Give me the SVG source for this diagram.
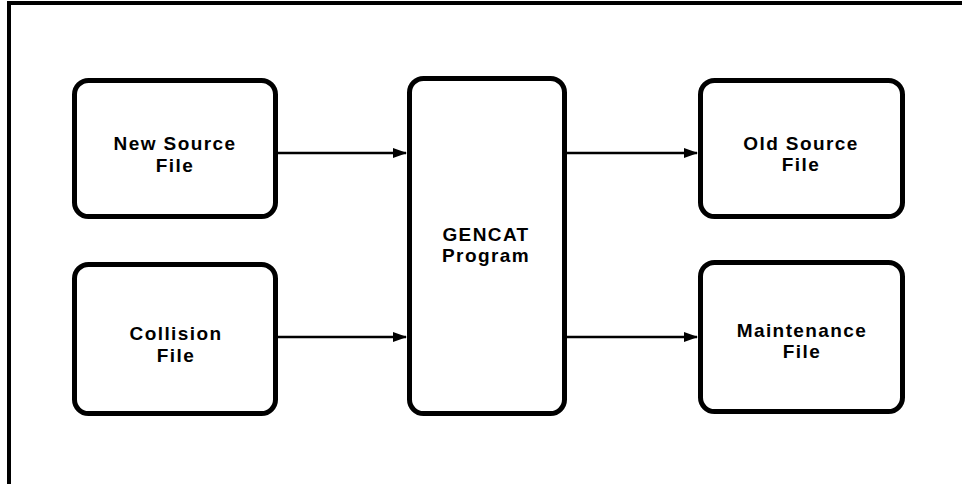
<svg xmlns="http://www.w3.org/2000/svg" width="962" height="484" viewBox="0 0 962 484">
<style>
.box{fill:#fff;stroke:#000;stroke-width:5}
.lbl{font-family:"Liberation Sans",Arial,sans-serif;font-weight:bold;font-size:19px;letter-spacing:1.4px;text-anchor:middle;fill:#000}
.con{stroke:#000;stroke-width:2.5;fill:none}
</style>
<defs>
<marker id="ah" markerWidth="14" markerHeight="11" refX="13" refY="5.5" orient="auto" markerUnits="userSpaceOnUse">
<path d="M0,0.5 L14,5.5 L0,10.5 Z" fill="#000"/>
</marker>
</defs>
<rect width="962" height="484" fill="#fff"/>
<rect x="9" y="3" width="1000" height="600" fill="none" stroke="#000" stroke-width="4"/>
<g id="connectors">
<line class="con" x1="278" y1="153" x2="406" y2="153" marker-end="url(#ah)"/>
<line class="con" x1="278" y1="337" x2="406" y2="337" marker-end="url(#ah)"/>
<line class="con" x1="566" y1="153" x2="697" y2="153" marker-end="url(#ah)"/>
<line class="con" x1="566" y1="337" x2="697" y2="337" marker-end="url(#ah)"/>
</g>
<g id="new-source">
<rect class="box" x="74.5" y="80.5" width="201" height="136" rx="14"/>
<text class="lbl" x="175" y="150">New Source</text>
<text class="lbl" x="175" y="172">File</text>
</g>
<g id="collision">
<rect class="box" x="74.5" y="264.5" width="201" height="149" rx="14"/>
<text class="lbl" x="176" y="340">Collision</text>
<text class="lbl" x="176" y="362">File</text>
</g>
<g id="gencat">
<rect class="box" x="409.5" y="78.5" width="155" height="335" rx="14"/>
<text class="lbl" x="486" y="241">GENCAT</text>
<text class="lbl" x="486" y="262">Program</text>
</g>
<g id="old-source">
<rect class="box" x="700.5" y="80.5" width="202" height="136" rx="14"/>
<text class="lbl" x="801" y="150">Old Source</text>
<text class="lbl" x="801" y="171">File</text>
</g>
<g id="maintenance">
<rect class="box" x="700.5" y="262.5" width="202" height="149" rx="14"/>
<text class="lbl" x="802" y="337">Maintenance</text>
<text class="lbl" x="802" y="358">File</text>
</g>
</svg>
